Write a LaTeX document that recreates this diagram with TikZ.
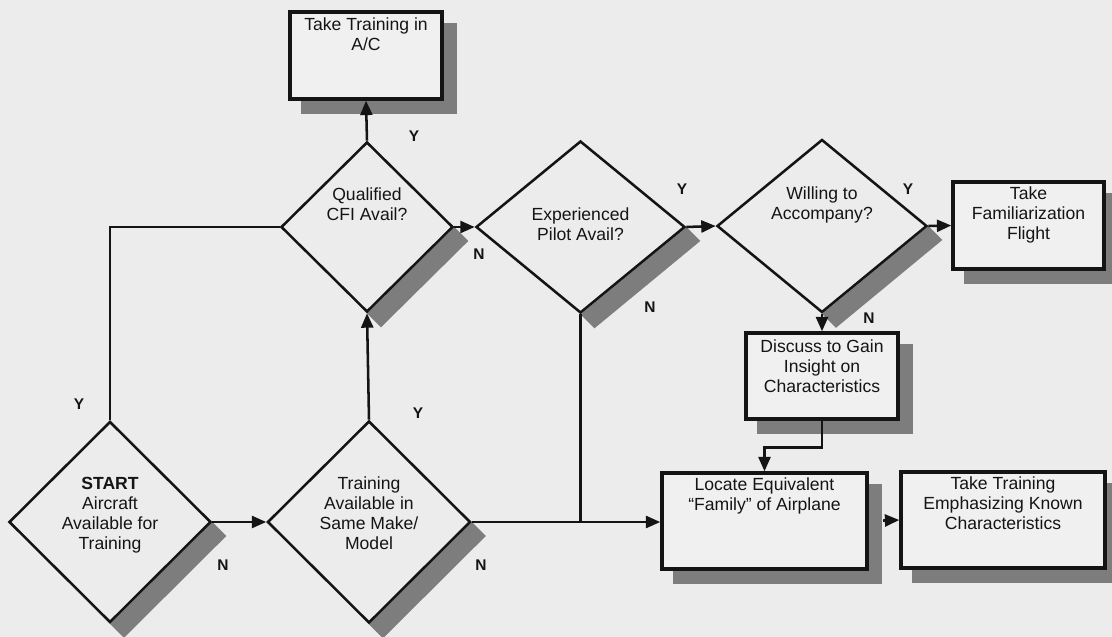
\documentclass[tikz,border=0pt]{standalone}
\usepackage{fontspec}
\setmainfont{Liberation Sans}
\usetikzlibrary{shapes.geometric,arrows.meta,calc,backgrounds}
\definecolor{paper}{RGB}{236,236,236}
\definecolor{boxfill}{RGB}{240,240,240}
\definecolor{shade}{RGB}{125,125,125}
\definecolor{ink}{RGB}{20,20,20}
\begin{document}
\begin{tikzpicture}[x=0.025cm,y=-0.025cm,
  dia/.style={diamond, draw=ink, line width=1.8pt, inner sep=0pt},
  boxn/.style={rectangle, draw=ink, fill=boxfill, line width=2.4pt, inner sep=0pt},
  txt/.style={align=center, inner sep=0pt, text=ink, font=\fontsize{12.5}{14.2}\selectfont},
  yn/.style={inner sep=0pt, text=ink, font=\fontsize{11}{13}\selectfont\bfseries},
  conn/.style={draw=ink, line width=1.8pt},
  arr/.style={conn, -{Triangle[length=0.36cm,width=0.3cm]}},
  shd/.style={fill=shade}]
\useasboundingbox (0,0) rectangle (1112,637);

% decision diamonds
\node[dia, minimum width=5.05cm, minimum height=5.025cm,
  label={[txt,anchor=north,yshift=-1.425cm]90:{\textbf{START}\\Aircraft\\Available for\\Training}}] (start) at (110,522) {};
\node[dia, minimum width=5.075cm, minimum height=5.05cm,
  label={[txt,anchor=north,yshift=-1.425cm]90:{Training\\Available in\\Same Make/\\Model}}] (train) at (369,522) {};
\node[dia, minimum width=4.3cm, minimum height=4.25cm,
  label={[txt,anchor=north,yshift=-1.175cm]90:{Qualified\\CFI Avail?}}] (cfi) at (367,227) {};
\node[dia, minimum width=5.225cm, minimum height=4.3cm,
  label={[txt,anchor=north,yshift=-1.7cm]90:{Experienced\\Pilot Avail?}}] (exp) at (580.5,227) {};
\node[dia, minimum width=5.25cm, minimum height=4.325cm,
  label={[txt,anchor=north,yshift=-1.2cm]90:{Willing to\\Accompany?}}] (will) at (822,226) {};

% action boxes
\node[boxn, minimum width=3.8cm, minimum height=2.175cm,
  label={[txt,anchor=north,yshift=-0.17cm]90:{Take Training in\\A/C}}] (ac) at (366,55.5) {};
\node[boxn, minimum width=3.775cm, minimum height=2.175cm,
  label={[txt,anchor=north,yshift=-0.15cm]90:{Take\\Familiarization\\Flight}}] (fam) at (1028.5,225.5) {};
\node[boxn, minimum width=3.8cm, minimum height=2.15cm,
  label={[txt,anchor=north,yshift=-0.2cm]90:{Discuss to Gain\\Insight on\\Characteristics}}] (disc) at (822,376) {};
\node[boxn, minimum width=5.125cm, minimum height=2.4cm,
  label={[txt,anchor=north,yshift=-0.15cm]90:{Locate Equivalent\\“Family” of Airplane}}] (loc) at (764.5,521) {};
\node[boxn, minimum width=5.1cm, minimum height=2.4cm,
  label={[txt,anchor=north,yshift=-0.15cm]90:{Take Training\\Emphasizing Known\\Characteristics}}] (emph) at (1003,520) {};

% connectors
\draw[conn] (start.north) |- (cfi.west);
\draw[arr] (start.east) -- (train.west);
\draw[arr] (train.north) -- (cfi.south);
\draw[arr] (train.east) -- (train.east -| loc.west);
\draw[conn] (exp.south) -- (exp.south |- train.east);
\draw[arr] (cfi.north) -- (ac.south);
\draw[arr] (cfi.east) -- (exp.west);
\draw[arr] (exp.east) -- (will.west);
\draw[arr] (will.east) -- (fam.west);
\draw[arr] (will.south) -- (disc.north);
\draw[arr] (disc.south) -- ++(0,27) -| (loc.north);
\draw[arr, shorten <=0.36cm] (loc.east) -- (emph.west);

% Y / N labels
\node[yn] (l1) at (79,404) {Y};
\node[yn] (l2) at (223,565) {N};
\node[yn] (l3) at (418,413) {Y};
\node[yn] (l4) at (481,565) {N};
\node[yn] (l5) at (414,136) {Y};
\node[yn] (l6) at (479,254) {N};
\node[yn] (l7) at (682,189) {Y};
\node[yn] (l8) at (650,307) {N};
\node[yn] (l9) at (908,189) {Y};
\node[yn] (l10) at (869,318) {N};

% paper and shadows
\begin{scope}[on background layer]
\fill[paper] (0,0) rectangle (1112,637);
\foreach \b in {ac,fam,disc,loc,emph}
  \fill[shd] ($(\b.south west)+(13,13)$) rectangle ($(\b.north east)+(13,13)$);
\foreach \d in {start,train,cfi,exp,will}
  \fill[shd] (\d.east) -- ++(14,14) -- ($(\d.south)+(14,14)$) -- (\d.south) -- cycle;
\end{scope}
\end{tikzpicture}
\end{document}
